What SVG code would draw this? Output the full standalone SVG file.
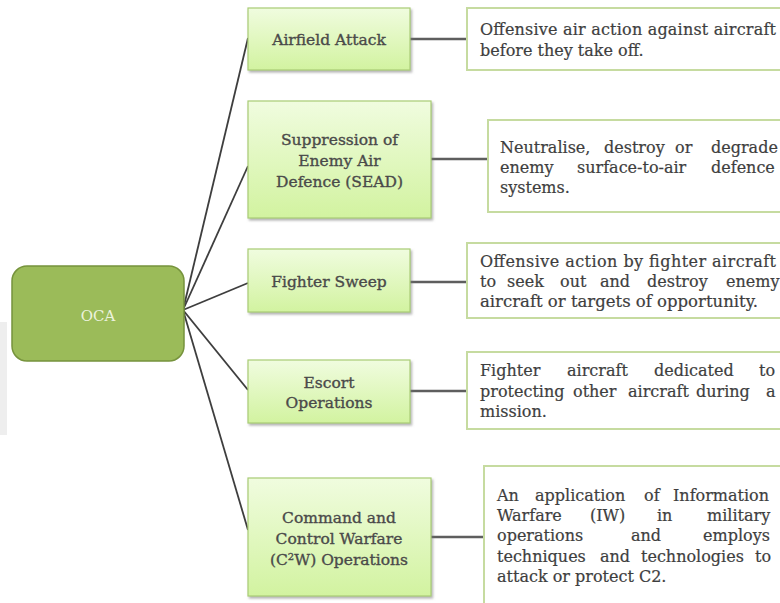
<svg xmlns="http://www.w3.org/2000/svg" width="780" height="603" viewBox="0 0 780 603">
  <defs>
    <linearGradient id="lg" x1="0" y1="0" x2="0" y2="1">
      <stop offset="0" stop-color="#F0FCDF"/>
      <stop offset="1" stop-color="#D2F3A0"/>
    </linearGradient>
    <filter id="sh" x="-10%" y="-10%" width="125%" height="130%">
      <feDropShadow dx="1.5" dy="2" stdDeviation="1.2" flood-color="#777" flood-opacity="0.55"/>
    </filter>
    <style>
      .cat { fill: url(#lg); stroke: #A9CC75; stroke-width: 1.2; filter: url(#sh); }
      .desc { fill: #FFFFFF; stroke: #C6DBA0; stroke-width: 2; }
      .lt { font-family: "DejaVu Serif", "Liberation Serif", serif; font-size: 15.5px; fill: #4A4A4A; stroke: #4A4A4A; stroke-width: 0.35px; text-anchor: middle; }
      .dt { font-family: "DejaVu Serif", "Liberation Serif", serif; font-size: 16px; fill: #3E3E3E; stroke: #3E3E3E; stroke-width: 0.2px; }
      .fan { stroke: #3E3E3E; stroke-width: 1.8; fill: none; }
      .hz { stroke: #5E5E5E; stroke-width: 2.6; fill: none; }
    </style>
  </defs>
  <rect x="0" y="322" width="7" height="113" fill="#EEEEEE"/>

  <g id="connectors">
    <line class="fan" x1="183" y1="310" x2="248" y2="38"/>
    <line class="fan" x1="183" y1="310" x2="248" y2="166"/>
    <line class="fan" x1="183" y1="310" x2="248" y2="283"/>
    <line class="fan" x1="183" y1="310" x2="248" y2="390"/>
    <line class="fan" x1="183" y1="310" x2="248" y2="530"/>
    <line class="hz" x1="410" y1="39" x2="467" y2="39"/>
    <line class="hz" x1="431" y1="159" x2="488" y2="159"/>
    <line class="hz" x1="410" y1="282" x2="467" y2="282"/>
    <line class="hz" x1="410" y1="391" x2="467" y2="391"/>
    <line class="hz" x1="431" y1="537" x2="484" y2="537"/>
  </g>

  <g id="oca">
    <rect x="12" y="266" width="172" height="95" rx="15" ry="15" fill="#9BBB59" stroke="#76933C" stroke-width="1.5"/>
    <text x="98" y="321" font-family="'DejaVu Serif', 'Liberation Serif', serif" font-size="15" fill="#EBF2DD" text-anchor="middle">OCA</text>
  </g>

  <g id="airfield-attack">
    <rect class="cat" x="248" y="8" width="162" height="62"/>
    <text class="lt" x="329" y="45">Airfield Attack</text>
  </g>
  <g id="sead">
    <rect class="cat" x="248" y="101" width="183" height="117"/>
    <text class="lt" x="339.5" y="145">Suppression of</text>
    <text class="lt" x="339.5" y="166">Enemy Air</text>
    <text class="lt" x="339.5" y="187">Defence (SEAD)</text>
  </g>
  <g id="fighter-sweep">
    <rect class="cat" x="248" y="249" width="162" height="63"/>
    <text class="lt" x="329" y="287">Fighter Sweep</text>
  </g>
  <g id="escort">
    <rect class="cat" x="248" y="360" width="162" height="63"/>
    <text class="lt" x="329" y="388">Escort</text>
    <text class="lt" x="329" y="408">Operations</text>
  </g>
  <g id="c2w">
    <rect class="cat" x="248" y="478" width="183" height="118"/>
    <text class="lt" x="339" y="523">Command and</text>
    <text class="lt" x="339" y="544">Control Warfare</text>
    <text class="lt" x="339" y="565">(C<tspan font-size="10" baseline-shift="super">2</tspan>W) Operations</text>
  </g>

  <g id="desc-airfield">
    <rect class="desc" x="467" y="8" width="320" height="62"/>
    <text class="dt" x="480" y="35" textLength="296" lengthAdjust="spacing">Offensive air action against aircraft</text>
    <text class="dt" x="480" y="56">before they take off.</text>
  </g>
  <g id="desc-sead">
    <rect class="desc" x="488" y="120" width="300" height="92"/>
    <text class="dt" y="153"><tspan x="500">Neutralise,</tspan> <tspan x="604">destroy</tspan> <tspan x="675">or</tspan> <tspan x="711">degrade</tspan></text>
    <text class="dt" y="173"><tspan x="500">enemy</tspan> <tspan x="577">surface-to-air</tspan> <tspan x="711">defence</tspan></text>
    <text class="dt" x="500" y="193">systems.</text>
  </g>
  <g id="desc-fighter-sweep">
    <rect class="desc" x="467" y="243" width="320" height="75"/>
    <text class="dt" x="480" y="267" textLength="296" lengthAdjust="spacing">Offensive action by fighter aircraft</text>
    <text class="dt" y="287"><tspan x="480">to</tspan> <tspan x="507">seek</tspan> <tspan x="560">out</tspan> <tspan x="600">and</tspan> <tspan x="647">destroy</tspan> <tspan x="726">enemy</tspan></text>
    <text class="dt" x="480" y="307" textLength="278" lengthAdjust="spacingAndGlyphs">aircraft or targets of opportunity.</text>
  </g>
  <g id="desc-escort">
    <rect class="desc" x="467" y="352" width="320" height="77"/>
    <text class="dt" y="376"><tspan x="480">Fighter</tspan> <tspan x="567">aircraft</tspan> <tspan x="654">dedicated</tspan> <tspan x="759">to</tspan></text>
    <text class="dt" y="397"><tspan x="480">protecting</tspan> <tspan x="573">other</tspan> <tspan x="628">aircraft</tspan> <tspan x="696">during</tspan> <tspan x="766">a</tspan></text>
    <text class="dt" x="480" y="417">mission.</text>
  </g>
  <g id="desc-c2w">
    <rect class="desc" x="484" y="466" width="310" height="150"/>
    <text class="dt" y="501"><tspan x="497">An</tspan> <tspan x="535">application</tspan> <tspan x="644">of</tspan> <tspan x="673">Information</tspan></text>
    <text class="dt" y="521"><tspan x="497">Warfare</tspan> <tspan x="590">(IW)</tspan> <tspan x="657">in</tspan> <tspan x="707">military</tspan></text>
    <text class="dt" y="541"><tspan x="497">operations</tspan> <tspan x="631">and</tspan> <tspan x="703">employs</tspan></text>
    <text class="dt" y="562"><tspan x="497">techniques</tspan> <tspan x="600">and</tspan> <tspan x="641">technologies</tspan> <tspan x="755">to</tspan></text>
    <text class="dt" x="497" y="582">attack or protect C2.</text>
  </g>
</svg>
